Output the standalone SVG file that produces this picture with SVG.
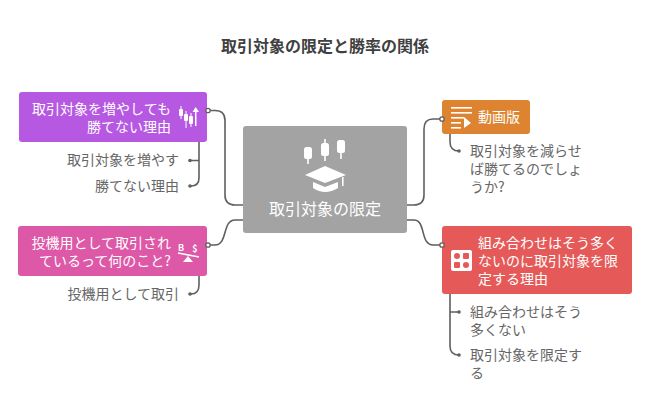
<svg xmlns="http://www.w3.org/2000/svg" width="650" height="416" viewBox="0 0 650 416">
<style>
text{font-family:"Noto Sans CJK JP","Noto Sans",sans-serif}
.w{fill:#fff;font-size:14px}
.g{fill:#666;font-size:14px}
.c{fill:none;stroke:#5f5f5f;stroke-width:1.6}
.d{fill:#5f5f5f}
.o{fill:#fff;stroke:#5f5f5f;stroke-width:1.3}
.i{fill:#fff;stroke:none}
.l{fill:none;stroke:#fff;stroke-width:1.6}
</style>
<rect width="650" height="416" fill="#fff"/>
<text x="325" y="52" text-anchor="middle" style="font-size:16px;font-weight:700;fill:#404040">取引対象の限定と勝率の関係</text>
<g id="connectors">
<path class="c" d="M208 110.500H215Q225 110.500 225 120.500V195Q225 205 235 205H243"/>
<path class="c" d="M208 245H215C228 245 222 220 235 220H243"/>
<path class="c" d="M442 119H433Q424 119 424 129V195Q424 205 414 205H407"/>
<path class="c" d="M442 245H433C420 245 426 220 414 220H407"/>
<path class="c" d="M199 142V178Q199 186 191 186H190M199 160.500H190"/>
<path class="c" d="M199 276V285Q199 294 191 294H190"/>
<path class="c" d="M450 134V142Q450 151 459 151"/>
<path class="c" d="M450 294V346Q450 355 459 355M450 312H459"/>
<circle class="d" cx="190" cy="160.500" r="1.800"/><circle class="d" cx="190" cy="186" r="1.800"/>
<circle class="d" cx="190" cy="294" r="1.800"/><circle class="d" cx="459" cy="151" r="1.800"/>
<circle class="d" cx="459" cy="312" r="1.800"/><circle class="d" cx="459" cy="355" r="1.800"/>
</g>
<g id="node-main">
<rect x="243" y="126" width="164" height="107" rx="3" fill="#a3a3a3"/>
<g class="i">
<rect x="304" y="147" width="8" height="12" rx="2.500"/><rect x="307.200" y="158" width="1.600" height="6"/>
<rect x="321" y="143" width="8" height="13" rx="2.500"/><rect x="324.200" y="139" width="1.600" height="22"/>
<rect x="337" y="140" width="8" height="13" rx="2.500"/><rect x="340.200" y="152" width="1.600" height="7"/>
<path d="M325 166L346 175L325 183L305 175Z"/>
<path d="M313 182L325 187L338 182V188Q325 196 313 188Z"/>
<rect x="342" y="177" width="1.600" height="9"/>
</g>
<text x="325" y="215" text-anchor="middle" style="fill:#fff;font-size:16px">取引対象の限定</text>
</g>
<g id="node-candles">
<rect x="19" y="92" width="188" height="50" rx="3" fill="#b658e2"/>
<text class="w" x="171" y="114" text-anchor="end">取引対象を増やしても</text>
<text class="w" x="171" y="132" text-anchor="end">勝てない理由</text>
<g class="i">
<rect x="179" y="109" width="4" height="7" rx="1"/><rect x="180.500" y="106" width="1" height="13"/>
<rect x="184" y="114" width="4" height="7" rx="1"/><rect x="185.500" y="111" width="1" height="17"/>
<rect x="189" y="116" width="4" height="8" rx="1"/><rect x="190.500" y="113" width="1" height="14"/>
<rect x="195" y="111" width="1.500" height="15"/><path d="M192.500 112L195.700 107L199 112Z"/>
</g>
<circle class="o" cx="208" cy="110.500" r="2.200"/>
</g>
<text class="g" x="179" y="165" text-anchor="end">取引対象を増やす</text>
<text class="g" x="179" y="191" text-anchor="end">勝てない理由</text>
<g id="node-speculation">
<rect x="18" y="226" width="189" height="50" rx="3" fill="#de58a8"/>
<text class="w" x="171" y="248" text-anchor="end">投機用として取引され</text>
<text class="w" x="171" y="266" text-anchor="end">ているって何のこと?</text>
<text x="181" y="251" text-anchor="middle" style="fill:#fff;font-size:9px;font-weight:700">B</text>
<text x="195" y="252" text-anchor="middle" style="fill:#fff;font-size:9px;font-weight:700">$</text>
<path class="l" d="M178 253L199 257"/><path class="i" d="M188 256L193 262H183Z"/>
<circle class="o" cx="208" cy="245" r="2.200"/>
</g>
<text class="g" x="179" y="299" text-anchor="end">投機用として取引</text>
<g id="node-video">
<rect x="442" y="100" width="88" height="34" rx="3" fill="#de8431"/>
<g class="i">
<rect x="451" y="107" width="21" height="1.600"/><rect x="451" y="112" width="21" height="1.600"/>
<rect x="451" y="117" width="13" height="1.600"/><rect x="451" y="122" width="10" height="1.600"/><rect x="451" y="127" width="10" height="1.600"/>
<path d="M464 117L471 123L464 128Z"/>
</g>
<text class="w" x="478" y="122">動画版</text>
<circle class="o" cx="442" cy="119" r="2.200"/>
</g>
<g class="g">
<text x="470" y="156">取引対象を減らせ</text>
<text x="470" y="174">ば勝てるのでしょ</text>
<text x="470" y="192">うか?</text>
</g>
<g id="node-combination">
<rect x="442" y="226" width="190" height="68" rx="3" fill="#e55a58"/>
<rect x="451" y="250" width="21" height="21" rx="2" fill="#fff"/>
<g fill="#e55a58">
<rect x="454" y="253" width="6" height="6" rx="3"/><rect x="463" y="253" width="6" height="6" rx="1"/>
<rect x="454" y="262" width="6" height="6" rx="1"/><rect x="463" y="262" width="6" height="6" rx="3"/>
</g>
<text class="w" x="478" y="248">組み合わせはそう多く</text>
<text class="w" x="478" y="266">ないのに取引対象を限</text>
<text class="w" x="478" y="284">定する理由</text>
<circle class="o" cx="442" cy="245" r="2.200"/>
</g>
<g class="g">
<text x="470" y="317">組み合わせはそう</text>
<text x="470" y="335">多くない</text>
<text x="470" y="360">取引対象を限定す</text>
<text x="470" y="378">る</text>
</g>
</svg>
